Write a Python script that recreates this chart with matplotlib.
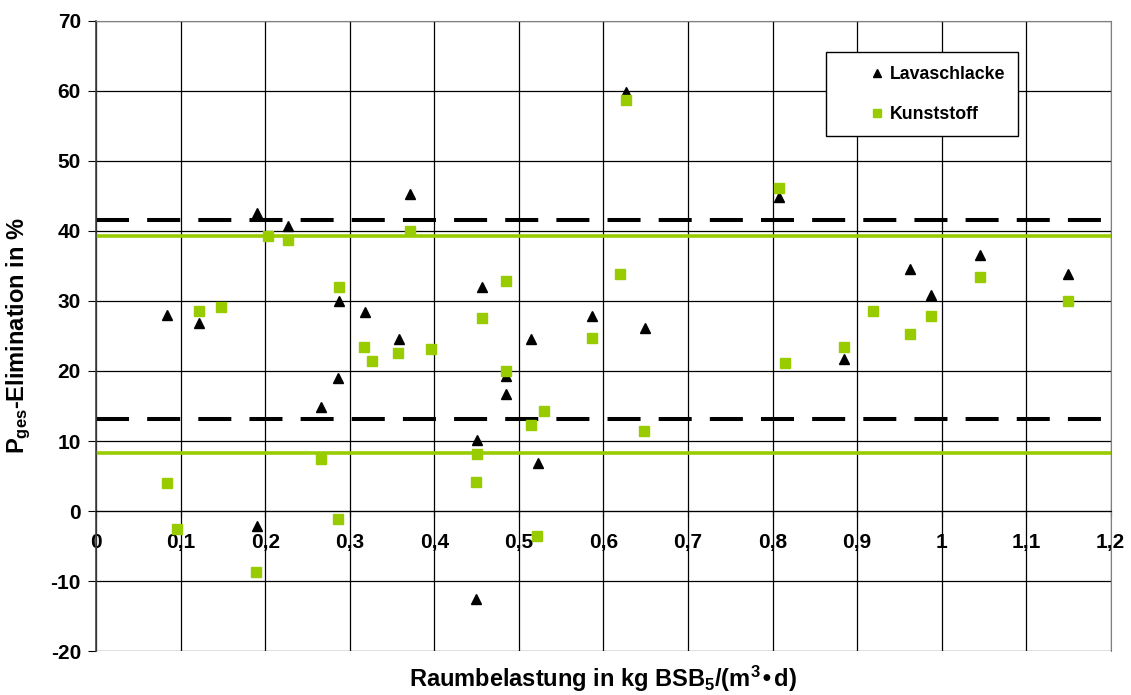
import numpy as np
import matplotlib.pyplot as plt
from matplotlib.patches import Rectangle
from matplotlib.ticker import FuncFormatter

plt.rcParams['font.family'] = ['Liberation Sans', 'DejaVu Sans']
plt.rcParams['font.weight'] = 'bold'
plt.rcParams['mathtext.default'] = 'regular'
plt.rcParams['axes.unicode_minus'] = False

GREEN = "#99CC00"

# Lavaschlacke (triangles)
lava_x = [0.084, 0.121, 0.190, 0.190, 0.2265, 0.2655, 0.2864, 0.2876, 0.3176,
          0.358, 0.371, 0.450, 0.449, 0.456, 0.4845, 0.485, 0.5144, 0.522,
          0.587, 0.627, 0.649, 0.808, 0.884, 0.963, 0.9875, 1.045, 1.150]
lava_y = [28.0, 26.8, 42.5, -2.2, 40.7, 14.8, 19.0, 30.0, 28.4,
          24.5, 45.3, 10.2, -12.5, 32.0, 16.7, 19.3, 24.6, 6.9,
          27.8, 59.9, 26.2, 44.8, 21.7, 34.5, 30.8, 36.6, 33.8]

# Kunststoff (squares)
kunst_x = [0.0837, 0.095, 0.121, 0.1476, 0.189, 0.2036, 0.2265, 0.2655, 0.2864,
           0.2876, 0.317, 0.326, 0.357, 0.371, 0.396, 0.449, 0.450, 0.456,
           0.4845, 0.485, 0.5144, 0.5295, 0.521, 0.587, 0.620, 0.627, 0.6485,
           0.808, 0.8147, 0.884, 0.919, 0.9626, 0.9875, 1.045, 1.150]
kunst_y = [4.0, -2.5, 28.6, 29.2, -8.7, 39.3, 38.7, 7.5, -1.2,
           32.0, 23.4, 21.4, 22.5, 40.0, 23.2, 4.2, 8.2, 27.6,
           20.0, 32.9, 12.3, 14.3, -3.5, 24.7, 33.9, 58.7, 11.5,
           46.1, 21.2, 23.4, 28.6, 25.3, 27.8, 33.4, 30.0]

# reference bands
lava_limits = [41.5, 13.2]
kunst_limits = [39.3, 8.3]

fig = plt.figure(figsize=(11.31, 6.95), dpi=100)
ax = fig.add_axes([0.0851, 0.0633, 0.8969, 0.9065])

ax.set_xlim(0, 1.2)
ax.set_ylim(-20, 70)
ax.set_xticks(np.arange(0, 1.21, 0.1))
ax.set_yticks(np.arange(-20, 71, 10))
ax.grid(True, color="black", linewidth=0.9)
ax.set_axisbelow(True)

for s in ["top", "right"]:
    ax.spines[s].set_color("#808080")
ax.spines["bottom"].set_position(("data", 0))
ax.spines["bottom"].set_color("black")
ax.spines["left"].set_color("#404040")
ax.spines["left"].set_linewidth(1.2)

comma = FuncFormatter(lambda v, p: ("%g" % round(v, 1)).replace(".", ","))
ax.xaxis.set_major_formatter(comma)
ax.tick_params(axis="x", direction="out", length=4, pad=12, labelsize=15)
ax.tick_params(axis="y", direction="out", length=6, pad=5, labelsize=15)
for lbl in ax.get_xticklabels() + ax.get_yticklabels():
    lbl.set_fontweight("bold")

for y in lava_limits:
    ax.axhline(y, color="black", linewidth=2.9, dashes=(8.2, 4.5), zorder=2)
for y in kunst_limits:
    ax.axhline(y, color=GREEN, linewidth=2.6, zorder=2)

ax.plot(lava_x, lava_y, "^", color="black", markersize=7, linestyle="none",
        label="Lavaschlacke", zorder=3)
ax.plot(kunst_x, kunst_y, "s", color=GREEN, markersize=6.5, linestyle="none",
        label="Kunststoff", zorder=4)

# legend box drawn separately so the entries can sit off-centre inside it
box = Rectangle((0.7193, 0.8175), 0.9086 - 0.7193, 0.9508 - 0.8175,
                transform=ax.transAxes, facecolor="white", edgecolor="black",
                linewidth=1.0, zorder=5)
ax.add_patch(box)
leg = ax.legend(loc="center left", bbox_to_anchor=(0.7627, 0.8833),
                frameon=False, prop={"size": 12.8, "weight": "bold"},
                borderpad=0, labelspacing=1.3, handletextpad=0.3,
                handlelength=0.8, markerscale=0.85, borderaxespad=0)
leg.set_zorder(6)

ax.set_xlabel(r"Raumbelastung in kg BSB$_5$/(m$^3$•d)", fontsize=17,
              fontweight="bold")
ax.xaxis.set_label_coords(0.5, -0.02)
ax.set_ylabel(r"P$_{ges}$-Elimination in %", fontsize=17, fontweight="bold")
ax.yaxis.set_label_coords(-0.062, 0.5)

fig.savefig("out.png", dpi=100)
